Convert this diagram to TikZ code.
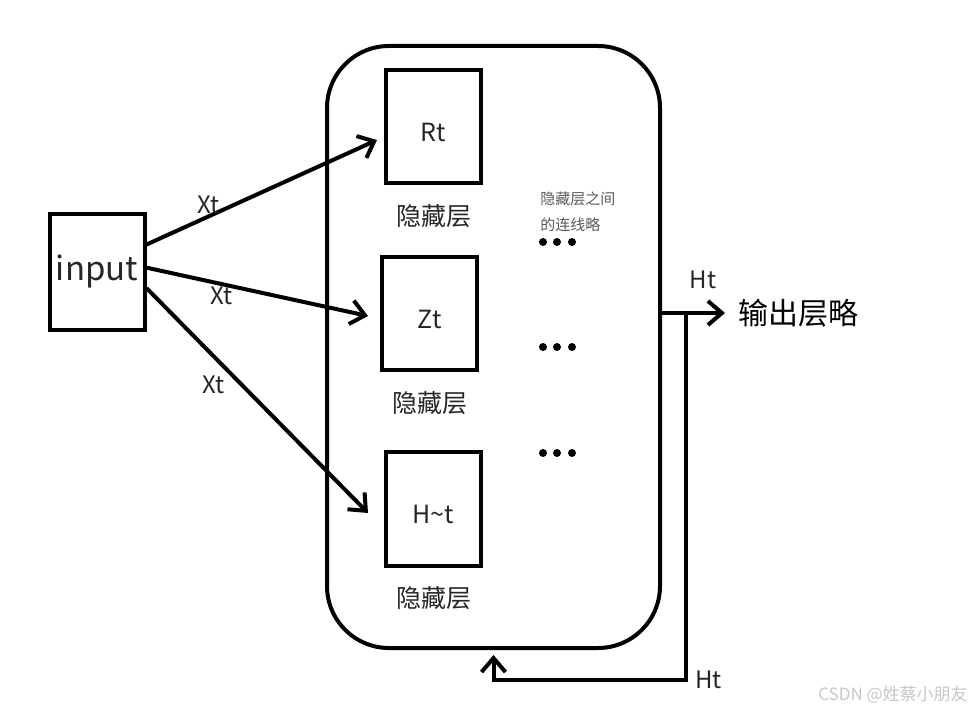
\documentclass[tikz,border=0pt]{standalone}
\usepackage{fontspec}
\setmainfont{Noto Sans CJK SC}
\usetikzlibrary{arrows.meta,positioning}

\begin{document}
\begin{tikzpicture}[x=1pt, y=1pt, line width=4pt,
  >={Straight Barb[length=14pt,width=24pt]},
  box/.style={draw, minimum width=95pt, minimum height=113pt, text height=30pt,
    font=\fontsize{25}{28}\selectfont, text=black!85},
  layer name/.style={font=\fontsize{25}{28}\selectfont, text=black!85},
  edge label/.style={font=\fontsize{24}{28}\selectfont, text=black!85, inner sep=1pt},
  dot/.style={circle, fill, inner sep=0pt, minimum size=8pt}]

\useasboundingbox (0,0) rectangle (980,713);

% input and the hidden part
\node [box, minimum height=116pt, text height=24pt, font=\fontsize{33}{36}\selectfont] (input) at (97,441) {input};

\node [draw, rounded corners=62pt, minimum width=333pt, minimum height=602pt] (hid) at (493.5,366) {};

\foreach \t/\n/\x/\y in {Rt/R/433.5/586, Zt/Z/429.5/399, H\textasciitilde t/H/433.5/204} {
  \node [box] (\n) at (\x,\y) {\t};
  \node [layer name, below=14pt of \n] (\n-name) {隐藏层};
}

\node [font=\fontsize{15}{26}\selectfont, text=black!65, align=left, anchor=north west]
  (note) at (535,527) {隐藏层之间\\的连线略};

\foreach \r/\y in {1/471, 2/366, 3/260}
  \foreach \c/\x in {1/543, 2/557, 3/572}
    \node [dot] (dot-\r-\c) at (\x,\y) {};

% inputs
\draw [->] (input.29) -- ([xshift=-7pt, yshift=-13pt]R.west)
  node [edge label, above, pos=.27] (x-R) {Xt};
\draw [->] (input.5) -- ([xshift=-12pt, yshift=-2pt]Z.west)
  node [edge label, below, pos=.34] (x-Z) {Xt};
\draw [->] (input.-18) -- ([xshift=-16pt, yshift=-4pt]H.west)
  node [edge label, left=14pt, pos=.43] (x-H) {Xt};

% output and feedback
\node [font=\fontsize{30}{34}\selectfont, anchor=west] (out) at (733,400) {输出层略};
\coordinate (split) at (686,400);
\coordinate (fb) at (686,33);

\draw [->, shorten >=8pt] (hid.east |- out.west) -- (out.west)
  node [edge label, above=21pt, pos=.58] (h-out) {Ht};
\draw [->, shorten >=5pt] (split) -- (fb)
  node [edge label, right=6pt] (h-back) {Ht} -| (hid.south);

\node [font=\fontsize{17}{20}\selectfont, text=black!22] (mark) at (893,18) {CSDN @姓蔡小朋友};
\end{tikzpicture}
\end{document}
